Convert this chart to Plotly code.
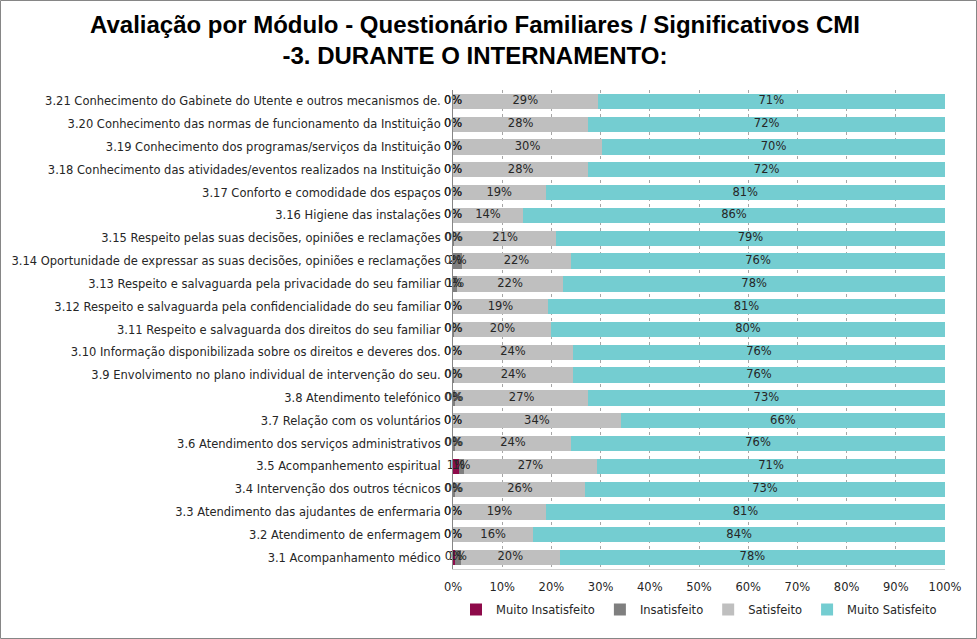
import plotly.graph_objects as go

categories = [
    "3.1 Acompanhamento médico",
    "3.2 Atendimento de enfermagem",
    "3.3 Atendimento das ajudantes de enfermaria",
    "3.4 Intervenção dos outros técnicos",
    "3.5 Acompanhemento espiritual",
    "3.6 Atendimento dos serviços administrativos",
    "3.7 Relação com os voluntários",
    "3.8 Atendimento telefónico",
    "3.9 Envolvimento no plano individual de intervenção do seu.",
    "3.10 Informação disponibilizada sobre os direitos e deveres dos.",
    "3.11 Respeito e salvaguarda dos direitos do seu familiar",
    "3.12 Respeito e salvaguarda pela confidencialidade do seu familiar",
    "3.13 Respeito e salvaguarda pela privacidade do seu familiar",
    "3.14 Oportunidade de expressar as suas decisões, opiniões e reclamações",
    "3.15 Respeito pelas suas decisões, opiniões e reclamações",
    "3.16 Higiene das instalações",
    "3.17 Conforto e comodidade dos espaços",
    "3.18 Conhecimento das atividades/eventos realizados na Instituição",
    "3.19 Conhecimento dos programas/serviços da Instituição",
    "3.20 Conhecimento das normas de funcionamento da Instituição",
    "3.21 Conhecimento do Gabinete do Utente e outros mecanismos de.",
]

muito_insatisfeito = [0.004, 0, 0, 0, 0.012, 0, 0, 0, 0, 0, 0, 0, 0, 0, 0, 0, 0, 0, 0, 0, 0]
insatisfeito = [0.012, 0, 0, 0.004, 0.010, 0.004, 0, 0.005, 0.002, 0, 0.002, 0, 0.008, 0.018, 0.003, 0, 0, 0, 0, 0, 0]
satisfeito = [0.201, 0.163, 0.189, 0.264, 0.271, 0.236, 0.341, 0.269, 0.242, 0.244, 0.197, 0.193, 0.216, 0.222, 0.206, 0.142, 0.188, 0.275, 0.303, 0.275, 0.294]
muito_satisfeito = [0.783, 0.837, 0.811, 0.732, 0.707, 0.760, 0.659, 0.726, 0.756, 0.756, 0.801, 0.807, 0.776, 0.760, 0.791, 0.858, 0.812, 0.725, 0.697, 0.725, 0.706]

series_names = ["Muito Insatisfeito", "Insatisfeito", "Satisfeito", "Muito Satisfeito"]
series_values = [muito_insatisfeito, insatisfeito, satisfeito, muito_satisfeito]
colors = ["#8E0A4A", "#7F7F7F", "#BFBFBF", "#74CDD1"]

x_ticks = [0, 0.1, 0.2, 0.3, 0.4, 0.5, 0.6, 0.7, 0.8, 0.9, 1.0]
x_tick_labels = ["0%", "10%", "20%", "30%", "40%", "50%", "60%", "70%", "80%", "90%", "100%"]

title_lines = ["Avaliação por Módulo - Questionário Familiares / Significativos CMI",
               "-3. DURANTE O INTERNAMENTO:"]

FONT = "DejaVu Sans, Verdana, sans-serif"
FS = 11.5
TXT = "#262626"

fig = go.Figure()
for name, vals, col in zip(series_names, series_values, colors):
    fig.add_trace(go.Bar(
        y=categories, x=vals, name=name, orientation="h",
        marker=dict(color=col, line=dict(width=0)),
        hoverinfo="skip",
    ))

# data labels centred on each segment
cum = [0.0] * len(categories)
for vals in series_values:
    mids = [c + v / 2 for c, v in zip(cum, vals)]
    fig.add_trace(go.Scatter(
        x=mids, y=categories, mode="text",
        text=[f"{round(v * 100):.0f}%" for v in vals],
        textfont=dict(family=FONT, size=FS, color=TXT),
        textposition="middle center",
        showlegend=False, cliponaxis=False, hoverinfo="skip",
    ))
    cum = [c + v for c, v in zip(cum, vals)]

L, R, T, B = 453, 32, 90, 70
W, H = 977, 639
pw, ph = W - L - R, H - T - B

fig.update_layout(
    width=W, height=H,
    barmode="stack", bargap=0.33,
    margin=dict(l=L, r=R, t=T, b=B, autoexpand=False),
    paper_bgcolor="white", plot_bgcolor="white",
    font=dict(family=FONT, size=FS, color=TXT),
    xaxis=dict(
        range=[0, 1], tickvals=x_ticks, ticktext=x_tick_labels,
        showgrid=True, gridcolor="#A6A6A6", griddash="dot", gridwidth=1,
        zeroline=False, showline=True, linecolor="#D0D0D0", linewidth=1,
        ticks="outside", ticklen=7, tickcolor="rgba(0,0,0,0)",
        tickfont=dict(family=FONT, size=FS, color=TXT),
        fixedrange=True,
    ),
    yaxis=dict(
        range=[-0.5, len(categories) - 0.5],
        showgrid=False, zeroline=False, showline=True, linecolor="#868686", linewidth=1,
        ticks="outside", ticklen=9, tickcolor="rgba(0,0,0,0)",
        tickfont=dict(family=FONT, size=FS, color=TXT),
        automargin=False, fixedrange=True,
    ),
    legend=dict(
        orientation="h", x=0.5, xanchor="center", y=-26 / ph, yanchor="top",
        traceorder="normal", font=dict(family=FONT, size=FS, color=TXT),
        itemwidth=30, tracegroupgap=0,
    ),
    annotations=[dict(
        text="<b>" + "<br>".join(title_lines) + "</b>",
        xref="paper", yref="paper",
        x=(475 - L) / pw, xanchor="center",
        y=1 + (T - 9) / ph, yanchor="top",
        showarrow=False, align="center",
        font=dict(family="Liberation Sans Narrow, Arial Narrow, sans-serif", size=24, color="black"),
    )],
    shapes=[dict(
        type="rect", xref="paper", yref="paper",
        x0=(0.5 - L) / pw, x1=(W - 0.5 - L) / pw,
        y0=-(B - 0.5) / ph, y1=1 + (T - 0.5) / ph,
        line=dict(color="#868686", width=1), fillcolor="rgba(0,0,0,0)", layer="below",
    )],
)

fig.write_html("out.html")
